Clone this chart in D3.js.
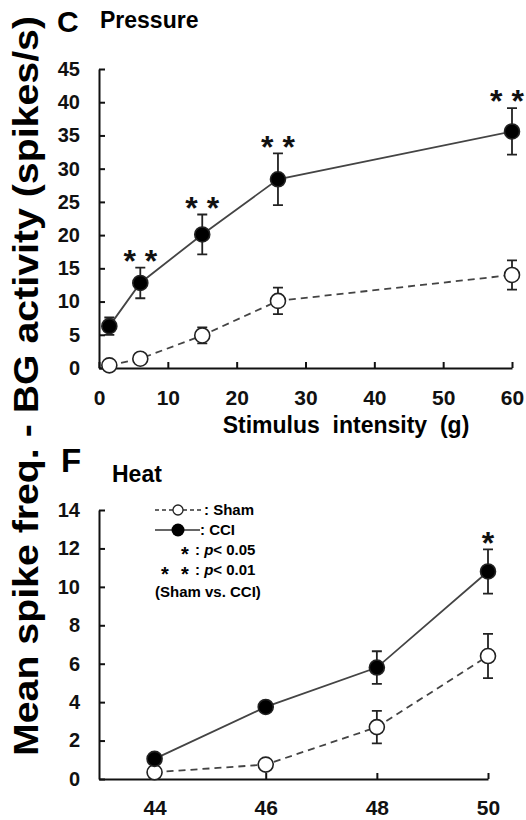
<!DOCTYPE html>
<html>
<head>
<meta charset="utf-8">
<script src="https://cdn.jsdelivr.net/npm/d3@7"></script>
<style>
  body { margin: 0; background: #fff; }
  svg { font-family: "Liberation Sans", Arial, sans-serif; }
  .tick text { font-weight: bold; font-size: 20px; fill: #111; }
  .domain, .tick line { stroke: #111; stroke-width: 2; }
</style>
</head>
<body>
<div id="chart"></div>
<script>
// Pressure panel (C)
const pressX = [1.5, 6, 15, 26, 60]
const pressCCI = [6.3, 12.8, 20.1, 28.4, 35.6]
const pressCCIerr = [1.3, 2.3, 3.0, 3.9, 3.5]
const pressSham = [0.4, 1.4, 4.9, 10.1, 14.0]
const pressShamErr = [0.3, 0.4, 1.2, 2.0, 2.2]
const pressStars = ["", "* *", "* *", "* *", "* *"]
const pressXTicks = [0, 10, 20, 30, 40, 50, 60]
const pressYTicks = [0, 5, 10, 15, 20, 25, 30, 35, 40, 45]

// Heat panel (F)
const heatX = [44, 46, 48, 50]
const heatCCI = [1.05, 3.75, 5.8, 10.8]
const heatCCIerr = [0.15, 0.15, 0.85, 1.15]
const heatSham = [0.35, 0.75, 2.7, 6.4]
const heatShamErr = [0.1, 0.15, 0.85, 1.15]
const heatStars = ["", "", "", "*"]
const heatXTicks = [44, 46, 48, 50]
const heatYTicks = [0, 2, 4, 6, 8, 10, 12, 14]

const width = 526, height = 820

const svg = d3.select("#chart").append("svg")
    .attr("width", width)
    .attr("height", height)

function drawPanel(opt){
    let x = d3.scaleLinear().domain(opt.xDomain).range([99, opt.xRight])
    let y = d3.scaleLinear().domain(opt.yDomain).range([opt.yBottom, opt.yTop])

    let g = svg.append("g")

    g.append("g")
        .attr("transform", "translate(0," + opt.yBottom + ")")
        .call(d3.axisBottom(x).tickValues(opt.xTicks).tickFormat(d3.format("d"))
            .tickSizeInner(-6).tickSizeOuter(0).tickPadding(opt.xPad))
        .call(a => a.selectAll(".tick text").style("font-size", "21px"))

    g.append("g")
        .attr("transform", "translate(99,0)")
        .call(d3.axisLeft(y).tickValues(opt.yTicks).tickSizeInner(-6).tickSizeOuter(0).tickPadding(19))

    let line = d3.line()
        .x((d, i) => x(opt.xs[i]))
        .y(d => y(d))

    // sham
    g.append("path")
        .datum(opt.sham)
        .attr("d", line)
        .attr("fill", "none")
        .attr("stroke", "#444")
        .attr("stroke-width", 1.8)
        .attr("stroke-dasharray", "7,5")

    // cci
    g.append("path")
        .datum(opt.cci)
        .attr("d", line)
        .attr("fill", "none")
        .attr("stroke", "#444")
        .attr("stroke-width", 1.8)

    let series = [
        {vals: opt.sham, errs: opt.shamErr, fill: "#fff"},
        {vals: opt.cci, errs: opt.cciErr, fill: "#000"}
    ]

    series.forEach(function(s){
        s.vals.forEach(function(v, i){
            let cx = x(opt.xs[i])
            let e = s.errs[i]
            g.append("path")
                .attr("d", "M" + (cx - 5) + "," + y(v + e) + "H" + (cx + 5)
                    + "M" + cx + "," + y(v + e) + "V" + y(v - e)
                    + "M" + (cx - 5) + "," + y(v - e) + "H" + (cx + 5))
                .attr("stroke", "#222")
                .attr("stroke-width", 1.8)
                .attr("fill", "none")
        })
        g.selectAll(null)
            .data(s.vals)
            .enter()
            .append("circle")
            .attr("cx", (d, i) => x(opt.xs[i]))
            .attr("cy", d => y(d))
            .attr("r", 7.5)
            .attr("fill", s.fill)
            .attr("stroke", "#222")
            .attr("stroke-width", 1.6)
    })

    // significance stars, centre ~14px above the error bar
    let fs = 32
    g.selectAll("text.star")
        .data(opt.stars)
        .enter()
        .append("text")
        .attr("class", "star")
        .attr("x", (d, i) => Math.min(x(opt.xs[i]), width - 19))
        .attr("y", (d, i) => y(opt.cci[i] + opt.cciErr[i]) - 14 + 0.57 * fs)
        .attr("text-anchor", "middle")
        .style("font-size", fs + "px")
        .style("font-weight", "bold")
        .style("fill", "#111")
        .attr("xml:space", "preserve")
        .text(d => d)
}

drawPanel({
    xDomain: [0, 60], xRight: 512, xTicks: pressXTicks, xPad: 22,
    yDomain: [0, 45], yBottom: 368, yTop: 69, yTicks: pressYTicks,
    xs: pressX, cci: pressCCI, cciErr: pressCCIerr, sham: pressSham, shamErr: pressShamErr,
    stars: pressStars
})

drawPanel({
    xDomain: [43, 50], xRight: 488, xTicks: heatXTicks, xPad: 21,
    yDomain: [0, 14], yBottom: 779, yTop: 510, yTicks: heatYTicks,
    xs: heatX, cci: heatCCI, cciErr: heatCCIerr, sham: heatSham, shamErr: heatShamErr,
    stars: heatStars
})

// titles
svg.append("text").attr("x", 57).attr("y", 32).text("C")
    .style("font-size", "30px").style("font-weight", "bold")
svg.append("text").attr("x", 100).attr("y", 28).text("Pressure")
    .style("font-size", "23px").style("font-weight", "bold")
svg.append("text").attr("x", 61).attr("y", 472).text("F")
    .style("font-size", "33px").style("font-weight", "bold")
svg.append("text").attr("x", 112).attr("y", 482).text("Heat")
    .style("font-size", "23px").style("font-weight", "bold")

svg.append("text")
    .attr("x", 346).attr("y", 433)
    .attr("text-anchor", "middle")
    .attr("xml:space", "preserve")
    .style("font-size", "23px").style("font-weight", "bold")
    .text("Stimulus  intensity  (g)")

svg.append("text")
    .attr("transform", "translate(38,386) rotate(-90)")
    .attr("text-anchor", "middle")
    .attr("textLength", 740)
    .attr("lengthAdjust", "spacingAndGlyphs")
    .style("font-size", "35px")
    .style("font-weight", "bold")
    .text("Mean spike freq. - BG activity (spikes/s)")

// legend
let lg = svg.append("g").style("font-size", "15px").style("font-weight", "bold")
lg.append("path").attr("d", "M155,510H203").attr("stroke", "#333").attr("stroke-width", 1.5).attr("stroke-dasharray", "4,3")
lg.append("circle").attr("cx", 178).attr("cy", 510).attr("r", 5).attr("fill", "#fff").attr("stroke", "#222").attr("stroke-width", 1.3)
lg.append("text").attr("x", 204).attr("y", 515).text(": Sham")
lg.append("path").attr("d", "M155,530H200").attr("stroke", "#333").attr("stroke-width", 1.5)
lg.append("circle").attr("cx", 178).attr("cy", 530).attr("r", 6.5).attr("fill", "#000")
lg.append("text").attr("x", 200).attr("y", 535).text(": CCI")
lg.append("text").attr("x", 185).attr("y", 561).attr("text-anchor", "middle").style("font-size", "20px").text("*")
lg.append("text").attr("x", 195).attr("y", 555).html(": <tspan font-style='italic'>p</tspan>< 0.05")
lg.append("text").attr("x", 165).attr("y", 581).attr("text-anchor", "middle").style("font-size", "20px").text("*")
lg.append("text").attr("x", 185).attr("y", 581).attr("text-anchor", "middle").style("font-size", "20px").text("*")
lg.append("text").attr("x", 195).attr("y", 575).html(": <tspan font-style='italic'>p</tspan>< 0.01")
lg.append("text").attr("x", 155).attr("y", 597).text("(Sham vs. CCI)")
</script>
</body>
</html>
